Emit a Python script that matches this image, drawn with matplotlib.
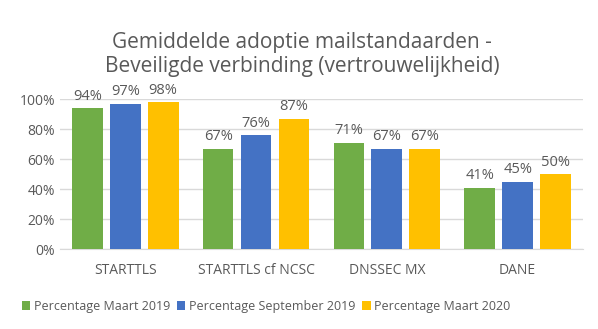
import numpy as np
import matplotlib.pyplot as plt
from matplotlib.ticker import PercentFormatter

# categorieën en waarden per meetmoment
categorieen = ["STARTTLS", "STARTTLS cf NCSC", "DNSSEC MX", "DANE"]
maart_2019 = [94, 67, 71, 41]
september_2019 = [97, 76, 67, 45]
maart_2020 = [98, 87, 67, 50]

reeksen = [
    ("Percentage Maart 2019", maart_2019, "#70AD47"),
    ("Percentage September 2019", september_2019, "#4472C4"),
    ("Percentage Maart 2020", maart_2020, "#FFC000"),
]

plt.rcParams['font.family'] = ['Open Sans', 'DejaVu Sans']
tekstkleur = "#595959"

fig = plt.figure(figsize=(5.98, 3.29), dpi=100)
ax = fig.add_axes([0.100, 0.243, 0.875, 0.456])

x = np.arange(len(categorieen))
breedte = 0.235
stap = 0.29

for i, (naam, waarden, kleur) in enumerate(reeksen):
    pos = x + (i - 1) * stap
    bars = ax.bar(pos, waarden, breedte, color=kleur, label=naam, zorder=3)
    for b, w in zip(bars, waarden):
        ax.text(b.get_x() + b.get_width() / 2, w + 3, f"{w}%",
                ha='center', va='bottom', fontsize=10.5, color=tekstkleur)

ax.set_xlim(-0.5, len(categorieen) - 0.5)
ax.set_ylim(0, 100)
ax.set_yticks(range(0, 101, 20))
ax.yaxis.set_major_formatter(PercentFormatter(decimals=0))
ax.set_xticks(x)
ax.set_xticklabels(categorieen)
ax.tick_params(axis='both', length=0, labelsize=10, colors=tekstkleur)
ax.tick_params(axis='x', pad=10)
ax.grid(axis='y', color="#D9D9D9", linewidth=1, zorder=0)
for s in ['left', 'right', 'top']:
    ax.spines[s].set_visible(False)
ax.spines['bottom'].set_color("#D9D9D9")

fig.text(0.505, 0.835, "Gemiddelde adoptie mailstandaarden -\nBeveiligde verbinding (vertrouwelijkheid)",
         ha='center', va='center', fontsize=15, color=tekstkleur, linespacing=1.2)

fig.legend(loc='center', bbox_to_anchor=(0.445, 0.068), ncol=3, frameon=False,
           fontsize=9, labelcolor=tekstkleur, handlelength=0.7, handleheight=0.7,
           handletextpad=0.3, columnspacing=0.5)

fig.savefig("out.png", dpi=100)
